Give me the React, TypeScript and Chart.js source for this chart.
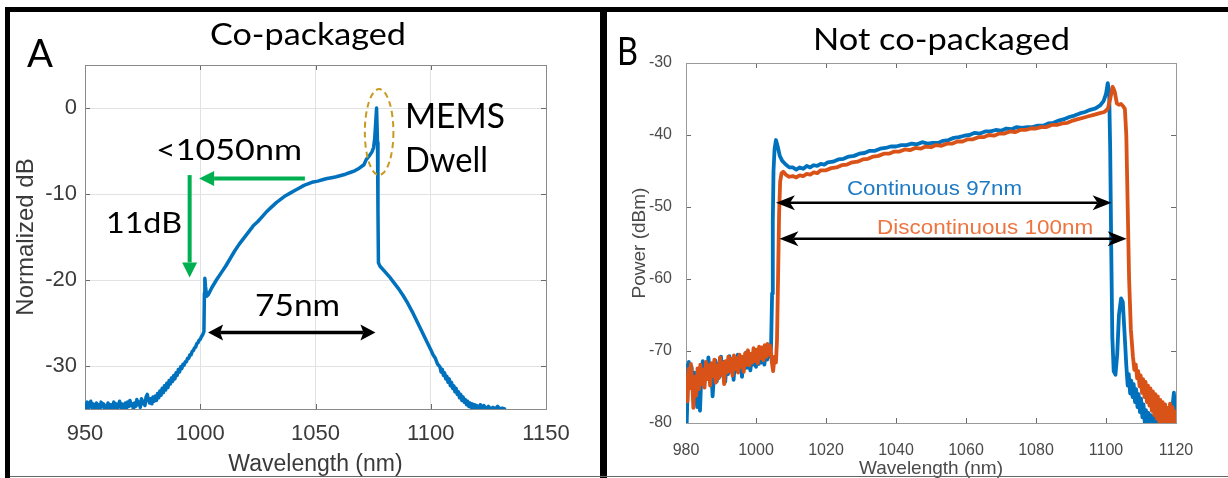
import React, { useEffect, useRef } from 'react';
import { Chart, registerables } from 'chart.js';

Chart.register(...registerables);

// ---------- Panel A: co-packaged spectrum (wavelength nm, normalized dB) ----------
const spectrumA: [number, number][] = [
  [950, -34.4], [950.5, -34.9], [951, -34.2], [951.5, -35.0], [952, -34.5], [952.5, -34.1], [953, -34.8], [953.5, -34.4],
  [954, -35.1], [954.5, -34.6], [955, -34.3], [955.5, -34.9], [956, -34.5], [956.5, -35.0], [957, -34.2], [957.5, -34.7],
  [958, -34.4], [958.5, -35.1], [959, -34.6], [959.5, -34.9], [960, -34.3], [960.5, -34.8], [961, -34.5], [961.5, -35.0],
  [962, -34.6], [962.5, -34.2], [963, -34.9], [963.5, -34.4], [964, -35.0], [964.5, -34.5], [965, -34.1], [965.5, -34.8],
  [966, -34.4], [966.5, -35.1], [967, -34.6], [967.5, -34.3], [968, -34.9], [968.5, -34.2], [969, -34.7], [969.5, -34.0],
  [970, -34.6], [970.5, -34.4], [971, -35.0], [971.5, -34.3], [972, -34.7], [972.5, -33.9], [973, -34.5], [973.5, -34.2],
  [974, -34.8], [974.5, -33.8], [975, -34.4], [975.5, -34.1], [976, -34.6], [976.5, -33.6], [977, -33.3], [977.5, -33.9],
  [978, -34.3], [978.5, -33.8], [979, -34.4], [979.5, -33.6], [980, -34.1], [980.5, -33.5], [981, -34.0], [981.5, -33.2],
  [982, -33.7], [982.5, -32.9], [983, -33.4], [983.5, -32.6], [984, -33.1], [984.5, -32.3], [985, -32.8], [985.5, -32.0],
  [986, -32.5], [986.5, -31.7], [987, -32.1], [987.5, -31.4], [988, -31.8], [988.5, -31.1], [989, -31.5], [989.5, -30.8],
  [990, -31.1], [990.5, -30.4], [991, -30.7], [991.5, -30.1], [992, -30.3], [992.5, -29.8], [993, -29.9], [993.5, -29.5],
  [994, -29.5], [994.5, -29.1], [995, -29.1], [995.5, -28.7], [996, -28.7], [996.5, -28.3], [997, -28.2], [997.5, -27.9],
  [998, -27.8], [998.5, -27.4], [999, -27.3], [999.5, -27.0], [1000, -26.9], [1000.5, -26.6], [1001, -26.4],
  [1001.6, -26.0], [1001.8, -21.5], [1002.0, -19.8], [1002.3, -20.8], [1002.8, -21.9], [1003.5, -21.7], [1005, -20.9],
  [1007, -20.0], [1009, -19.2], [1011, -18.4], [1013, -17.5], [1015, -16.6], [1017, -15.8], [1019, -15.1], [1021, -14.4],
  [1023, -13.7], [1025, -13.2], [1027, -12.6], [1029, -12.0], [1031, -11.5], [1033, -11.0], [1035, -10.6], [1037, -10.2],
  [1039, -9.9], [1041, -9.6], [1043, -9.3], [1045, -9.0], [1047, -8.8], [1049, -8.6], [1051, -8.5], [1053, -8.35],
  [1055, -8.2], [1057, -8.1], [1059, -8.0], [1061, -7.85], [1063, -7.7], [1065, -7.5], [1067, -7.3], [1069, -7.0],
  [1071, -6.6], [1072, -6.0], [1073.5, -5.5], [1074.5, -5.1], [1075.2, -4.6], [1075.7, -3.5], [1076.1, -1.8],
  [1076.5, 0], [1076.9, -4], [1077.1, -12], [1077.3, -18.0], [1078, -18.4], [1080, -19.0], [1082, -19.6], [1084, -20.3],
  [1086, -21.0], [1088, -21.8], [1090, -22.7], [1092, -23.7], [1094, -24.8], [1096, -25.9], [1098, -27.0],
  [1100, -28.1], [1101, -28.7], [1102, -29.1], [1103, -29.8], [1104, -30.1], [1104.5, -30.7], [1105, -30.4],
  [1105.5, -31.1], [1106, -30.8], [1106.5, -31.5], [1107, -31.2], [1107.5, -31.9], [1108, -31.5], [1108.5, -32.3],
  [1109, -31.9], [1109.5, -32.6], [1110, -32.3], [1110.5, -33.0], [1111, -32.6], [1111.5, -33.3], [1112, -33.0],
  [1112.5, -33.7], [1113, -33.3], [1113.5, -34.0], [1114, -33.6], [1114.5, -34.2], [1115, -33.9], [1115.5, -34.5],
  [1116, -34.1], [1116.5, -34.7], [1117, -34.3], [1117.5, -34.8], [1118, -34.4], [1118.5, -34.9], [1119, -34.5],
  [1119.5, -35.0], [1120, -34.6], [1121, -34.9], [1121.5, -34.5], [1122, -35.0], [1123, -34.6], [1124, -35.0],
  [1125, -34.7], [1126, -35.0], [1127, -34.8], [1128, -35.0], [1129, -34.7], [1130, -35.0], [1131, -34.9], [1132, -35.0],
];
const xTicksA = [950, 1000, 1050, 1100, 1150];
const yTicksA = [-30, -20, -10, 0];

// ---------- Panel B: not co-packaged spectra (wavelength nm, power dBm) ----------
const continuousB: [number, number][] = [
  [980, -72.0], [980.2, -80], [980.5, -75], [980.8, -71.5], [981.2, -74.8], [981.6, -72.2], [982, -76], [982.4, -73],
  [982.8, -75.5], [983.2, -77.8], [983.6, -74], [984, -78.3], [984.4, -73.2], [984.8, -71.4], [985.2, -74.6],
  [985.6, -72.1], [986, -73.8], [986.4, -70.9], [986.8, -73.5], [987.2, -72.2], [987.6, -76.3], [988, -73.4],
  [988.4, -71.3], [988.8, -74.2], [989.2, -71.8], [989.6, -73.6], [990, -70.8], [990.4, -73.1], [990.8, -71.5],
  [991.2, -74.3], [991.6, -71.9], [992, -73.2], [992.4, -70.7], [992.8, -72.9], [993.2, -71.2], [993.6, -74.0],
  [994, -71.5], [994.4, -72.8], [994.8, -70.5], [995.2, -72.6], [995.6, -71.0], [996, -73.6], [996.4, -71.3],
  [996.8, -72.4], [997.2, -70.2], [997.6, -72.3], [998, -70.9], [998.4, -72.7], [998.8, -70.4], [999.2, -71.9],
  [999.6, -70.1], [1000, -72.2], [1000.4, -70.6], [1000.8, -71.8], [1001.2, -69.8], [1001.6, -71.6], [1002, -70.3],
  [1002.4, -71.9], [1002.8, -69.9], [1003.2, -71.2], [1003.6, -69.5], [1004, -70.8], [1004.3, -69.5], [1004.6, -62],
  [1004.8, -52], [1005.0, -45], [1005.3, -42], [1005.7, -40.7], [1006.2, -41.6], [1006.8, -42.9], [1007.5, -43.6],
  [1008.5, -44.1], [1009.5, -44.5], [1010.5, -44.5], [1011.5, -44.8], [1012.5, -44.5], [1013.5, -44.7],
  [1014.5, -44.3], [1015.5, -44.5], [1016.5, -44.2], [1017.5, -44.3], [1018.5, -44.0], [1019.5, -44.1],
  [1020.5, -43.8], [1022, -43.7], [1023.5, -43.4], [1025, -43.3], [1026.5, -43.0], [1028, -42.9], [1029.5, -42.6],
  [1031, -42.5], [1032.5, -42.2], [1034, -42.2], [1035.5, -41.9], [1037, -41.8], [1038.5, -41.6], [1040, -41.6],
  [1041.5, -41.4], [1043, -41.4], [1044.5, -41.2], [1046, -41.3], [1047.5, -41.0], [1049, -41.2], [1050.5, -41.1],
  [1052, -41.1], [1053.5, -40.8], [1055, -40.7], [1056.5, -40.4], [1058, -40.3], [1059.5, -40.1], [1061, -40.0],
  [1062.5, -39.7], [1064, -39.8], [1065.5, -39.5], [1067, -39.5], [1068.5, -39.3], [1070, -39.4], [1071.5, -39.1],
  [1073, -39.2], [1074.5, -38.9], [1076, -39.0], [1077.5, -38.9], [1079, -38.9], [1080.5, -38.7], [1082, -38.7],
  [1083.5, -38.4], [1085, -38.3], [1086.5, -38.0], [1088, -37.8], [1089.5, -37.5], [1091, -37.3], [1092.5, -37.0],
  [1094, -36.8], [1095.5, -36.5], [1097, -36.3], [1098.3, -35.9], [1099.3, -35.3], [1100, -34.3], [1100.5, -32.8],
  [1100.9, -34.0], [1101.2, -42], [1101.5, -56], [1101.8, -68], [1102.2, -72.8], [1102.7, -73.3], [1103.2, -70.5],
  [1103.7, -65], [1104.3, -62.7], [1104.8, -63.2], [1105.3, -67.5], [1105.8, -72], [1106.2, -74.8], [1106.5, -73.2],
  [1106.9, -75.9], [1107.2, -74.1], [1107.6, -76.4], [1107.9, -74.6], [1108.3, -77.1], [1108.6, -75.3], [1109, -77.8],
  [1109.3, -76.0], [1109.7, -78.5], [1110, -76.6], [1110.4, -79.2], [1110.7, -77.4], [1111.1, -80], [1111.4, -78.2],
  [1111.8, -80], [1112.1, -78.6], [1112.5, -80], [1112.8, -78.9], [1113.2, -80], [1113.5, -79.1], [1113.9, -80],
  [1114.2, -78.7], [1114.6, -80], [1114.9, -79.2], [1115.3, -80], [1115.6, -78.8], [1116, -80], [1116.3, -79.4],
  [1116.7, -80], [1117, -78.9], [1117.4, -80], [1117.7, -79.3], [1118.1, -80], [1118.4, -78.6], [1118.8, -80],
  [1119.1, -77.2], [1119.4, -75.8], [1119.7, -78.5], [1120, -80],
];
const discontinuousB: [number, number][] = [
  [980, -73.5], [980.2, -76], [980.4, -77], [980.7, -72.5], [981, -75.2], [981.4, -71.8], [981.8, -74.5], [982.1, -77.9],
  [982.5, -73.6], [982.9, -76.2], [983.3, -72.4], [983.7, -75.3], [984.1, -71.9], [984.5, -74.6], [984.9, -72.6],
  [985.3, -75.1], [985.7, -71.5], [986.1, -73.9], [986.5, -72.0], [986.9, -74.8], [987.3, -71.7], [987.7, -73.5],
  [988.1, -71.2], [988.5, -74.4], [988.9, -72.0], [989.3, -73.8], [989.7, -70.9], [990.1, -73.3], [990.5, -71.6],
  [990.9, -74.6], [991.3, -71.4], [991.7, -73.0], [992.1, -70.8], [992.5, -72.8], [992.9, -71.1], [993.3, -73.4],
  [993.7, -70.6], [994.1, -72.5], [994.5, -71.0], [994.9, -73.0], [995.3, -70.5], [995.7, -72.2], [996.1, -70.8],
  [996.5, -72.9], [996.9, -70.3], [997.3, -71.9], [997.7, -69.9], [998.1, -72.0], [998.5, -70.4], [998.9, -71.6],
  [999.3, -69.6], [999.7, -71.4], [1000.1, -69.8], [1000.5, -71.7], [1000.9, -69.4], [1001.3, -71.0], [1001.7, -69.5],
  [1002.1, -71.3], [1002.5, -69.2], [1002.9, -70.8], [1003.3, -69.0], [1003.7, -70.5], [1004.1, -69.3], [1004.5, -71.5],
  [1004.9, -72.8], [1005.3, -70.8], [1005.7, -71.6], [1006, -68.5], [1006.3, -60], [1006.6, -51], [1006.9, -46.5],
  [1007.3, -45.3], [1007.8, -45.1], [1008.5, -45.5], [1009.5, -45.8], [1010.5, -45.7], [1011.5, -45.9],
  [1012.5, -45.6], [1013.5, -45.7], [1014.5, -45.4], [1015.5, -45.5], [1016.5, -45.2], [1017.5, -45.3],
  [1018.5, -44.9], [1020, -44.9], [1021.5, -44.6], [1023, -44.5], [1024.5, -44.2], [1026, -44.1], [1027.5, -43.8],
  [1029, -43.7], [1030.5, -43.4], [1032, -43.3], [1033.5, -43.0], [1035, -42.9], [1036.5, -42.6], [1038, -42.6],
  [1039.5, -42.3], [1041, -42.3], [1042.5, -42.0], [1044, -42.1], [1045.5, -41.8], [1047, -41.9], [1048.5, -41.6],
  [1050, -41.7], [1051.5, -41.4], [1053, -41.5], [1054.5, -41.2], [1056, -41.2], [1057.5, -40.9], [1059, -40.9],
  [1060.5, -40.6], [1062, -40.6], [1063.5, -40.3], [1065, -40.3], [1066.5, -40.0], [1068, -40.1], [1069.5, -39.8],
  [1071, -39.8], [1072.5, -39.5], [1074, -39.6], [1075.5, -39.3], [1077, -39.3], [1078.5, -39.1], [1080, -39.1],
  [1081.5, -38.9], [1083, -38.9], [1084.5, -38.6], [1086, -38.6], [1087.5, -38.4], [1089, -38.3], [1090.5, -38.0],
  [1092, -37.8], [1093.5, -37.6], [1095, -37.4], [1096.5, -37.2], [1098, -37.0], [1099.5, -36.8], [1100.5, -36.4],
  [1101.2, -35], [1101.9, -33.3], [1102.5, -34.0], [1103.1, -35.6], [1103.7, -35.8], [1104.3, -35.7],
  [1104.9, -36.0], [1105.4, -36.4], [1105.8, -40], [1106.2, -50], [1106.6, -60], [1107.1, -67], [1107.7, -70.8],
  [1108.1, -72.6], [1108.5, -71.9], [1108.9, -73.8], [1109.2, -72.8], [1109.6, -74.9], [1109.9, -73.4], [1110.3, -75.8],
  [1110.6, -73.9], [1111, -76.4], [1111.3, -74.3], [1111.7, -77.1], [1112, -74.8], [1112.4, -77.6], [1112.7, -75.2],
  [1113.1, -78.3], [1113.4, -75.6], [1113.8, -78.9], [1114.1, -76.0], [1114.5, -79.4], [1114.8, -76.3], [1115.2, -79.8],
  [1115.5, -76.8], [1115.9, -80], [1116.2, -77.1], [1116.6, -80], [1116.9, -77.4], [1117.3, -80], [1117.6, -77.9],
  [1118, -80], [1118.3, -77.3], [1118.7, -80], [1119, -77.8], [1119.4, -80], [1119.7, -78.4], [1120, -79.5],
];
const xTicksB = [980, 1000, 1020, 1040, 1060, 1080, 1100, 1120];
const yTicksB = [-80, -70, -60, -50, -40, -30];

// ---------- styling ----------
const AXIS_FONT = '"Liberation Sans", Arial, sans-serif';
const NOTE_FONT = 'Lato, "Open Sans", sans-serif';
const BLUE = '#0072BD';
const ORANGE = '#D95319';
const GREEN = '#00B050';

function fitText(ctx: any, text: string, left: number, baseline: number, size: number, color: string, width: number, family = NOTE_FONT) {
  ctx.save();
  ctx.font = `${size}px ${family}`;
  ctx.fillStyle = color;
  ctx.textAlign = 'left';
  ctx.textBaseline = 'alphabetic';
  const w = ctx.measureText(text).width || 1;
  ctx.translate(left, baseline);
  ctx.scale(width / w, 1);
  ctx.fillText(text, 0, 0);
  ctx.restore();
}

function arrowHead(ctx: any, tx: number, ty: number, dx: number, dy: number, len: number, half: number, notch: number) {
  const nx = -dy, ny = dx;
  ctx.beginPath();
  ctx.moveTo(tx, ty);
  ctx.lineTo(tx - dx * len + nx * half, ty - dy * len + ny * half);
  ctx.lineTo(tx - dx * (len - notch), ty - dy * (len - notch));
  ctx.lineTo(tx - dx * len - nx * half, ty - dy * len - ny * half);
  ctx.closePath();
  ctx.fill();
}

function arrow(ctx: any, x1: number, y1: number, x2: number, y2: number, color: string, lw: number, len: number, half: number, notch: number, both: boolean) {
  const L = Math.hypot(x2 - x1, y2 - y1) || 1;
  const dx = (x2 - x1) / L, dy = (y2 - y1) / L;
  ctx.save();
  ctx.strokeStyle = color;
  ctx.fillStyle = color;
  ctx.lineWidth = lw;
  ctx.beginPath();
  const back = len - notch;
  ctx.moveTo(both ? x1 + dx * back : x1, both ? y1 + dy * back : y1);
  ctx.lineTo(x2 - dx * back, y2 - dy * back);
  ctx.stroke();
  arrowHead(ctx, x2, y2, dx, dy, len, half, notch);
  if (both) arrowHead(ctx, x1, y1, -dx, -dy, len, half, notch);
  ctx.restore();
}

function framePlugin(boxColor: string, tickColor: string, tickLen: number) {
  return {
    id: 'frame',
    beforeDatasetsDraw(chart: any) {
      const { ctx, chartArea: a, scales } = chart;
      const x = scales.x, y = scales.y;
      ctx.save();
      ctx.lineWidth = 1;
      ctx.strokeStyle = tickColor;
      ctx.beginPath();
      x.ticks.forEach((t: any) => {
        const p = Math.round(x.getPixelForValue(t.value)) + 0.5;
        ctx.moveTo(p, a.bottom); ctx.lineTo(p, a.bottom - tickLen);
        ctx.moveTo(p, a.top); ctx.lineTo(p, a.top + tickLen);
      });
      y.ticks.forEach((t: any) => {
        const p = Math.round(y.getPixelForValue(t.value)) + 0.5;
        ctx.moveTo(a.left, p); ctx.lineTo(a.left + tickLen, p);
        ctx.moveTo(a.right, p); ctx.lineTo(a.right - tickLen, p);
      });
      ctx.stroke();
      ctx.strokeStyle = boxColor;
      ctx.strokeRect(Math.round(a.left) + 0.5, Math.round(a.top) + 0.5, Math.round(a.right - a.left), Math.round(a.bottom - a.top));
      ctx.restore();
    },
  };
}

const annotA = {
  id: 'annotA',
  afterDraw(chart: any) {
    const { ctx, scales } = chart;
    const X = (v: number) => scales.x.getPixelForValue(v);
    const Y = (v: number) => scales.y.getPixelForValue(v);
    fitText(ctx, 'A', 27, 67, 39, '#000', 26);
    fitText(ctx, 'Co-packaged', 210, 45, 30, '#000', 196);

    // MEMS dwell ellipse
    ctx.save();
    ctx.setLineDash([6, 4]);
    ctx.strokeStyle = '#C79A22';
    ctx.lineWidth = 2;
    ctx.beginPath();
    ctx.ellipse(X(1077.6), Y(-2.8), Math.abs(X(1083.8) - X(1077.6)), Math.abs(Y(-7.8) - Y(-2.8)), 0, 0, Math.PI * 2);
    ctx.stroke();
    ctx.restore();

    // green arrows
    arrow(ctx, X(1045.4), Y(-8.2), X(999.5), Y(-8.2), GREEN, 4, 15, 7.5, 0, false);
    arrow(ctx, X(995.4), Y(-7.8), X(995.4), Y(-19.7), GREEN, 4, 15, 7.5, 0, false);
    // black double arrow
    arrow(ctx, X(1003.4), Y(-26.1), X(1076.0), Y(-26.1), '#000', 3.5, 15, 8, 3, true);

    fitText(ctx, '<1050nm', X(980.8), Y(-6.08), 28, '#000', 146);
    fitText(ctx, '11dB', X(959.1), Y(-14.5), 29, '#000', 76);
    fitText(ctx, '75nm', X(1023.8), Y(-24.19), 30, '#000', 85);
    fitText(ctx, 'MEMS', X(1088.8), Y(-2.27), 35, '#000', 100);
    fitText(ctx, 'Dwell', X(1088.8), Y(-7.4), 35, '#000', 83);
  },
};

const annotB = {
  id: 'annotB',
  afterDraw(chart: any) {
    const { ctx, scales } = chart;
    const X = (v: number) => scales.x.getPixelForValue(v);
    const Y = (v: number) => scales.y.getPixelForValue(v);
    fitText(ctx, 'B', 11, 65, 39, '#000', 21);
    fitText(ctx, 'Not co-packaged', 207, 50, 31, '#000', 257);

    arrow(ctx, X(1005.7), Y(-49.4), X(1101.6), Y(-49.4), '#000', 2.5, 19, 7.5, 5, true);
    arrow(ctx, X(1006.7), Y(-54.4), X(1105.9), Y(-54.4), '#000', 2.5, 19, 7.5, 5, true);

    fitText(ctx, 'Continuous 97nm', X(1026.0), Y(-48.4), 21, '#1F7AC4', 175, AXIS_FONT);
    fitText(ctx, 'Discontinuous 100nm', X(1034.6), Y(-53.7), 21, '#EE7440', 216, AXIS_FONT);
  },
};

function configA(): any {
  return {
    type: 'line',
    data: {
      datasets: [{
        data: spectrumA.map(([x, y]) => ({ x, y })),
        borderColor: BLUE, borderWidth: 3.5, pointRadius: 0, tension: 0,
        borderJoinStyle: 'round', borderCapStyle: 'round', fill: false,
      }],
    },
    options: {
      animation: false, responsive: false, events: [],
      layout: { padding: { top: 65, right: 54, bottom: 0, left: 0 } },
      plugins: { legend: { display: false }, tooltip: { enabled: false } },
      scales: {
        x: {
          type: 'linear', min: 950, max: 1150,
          afterBuildTicks: (s: any) => { s.ticks = xTicksA.map((v) => ({ value: v })); },
          afterFit: (s: any) => { s.height = 69; },
          grid: { color: '#e2e2e2', drawTicks: false },
          border: { display: false },
          ticks: { autoSkip: false, maxRotation: 0, padding: 12, color: '#3a3a3a', font: { family: AXIS_FONT, size: 22 }, callback: (v: any) => String(v) },
          title: { display: true, text: 'Wavelength (nm)', color: '#3a3a3a', font: { family: AXIS_FONT, size: 23 }, padding: { top: 0, bottom: 0 } },
        },
        y: {
          type: 'linear', min: -35, max: 5,
          afterBuildTicks: (s: any) => { s.ticks = yTicksA.map((v) => ({ value: v })); },
          afterFit: (s: any) => { s.width = 85; },
          grid: { color: '#e2e2e2', drawTicks: false },
          border: { display: false },
          ticks: { autoSkip: false, padding: 8, color: '#3a3a3a', font: { family: AXIS_FONT, size: 22 }, callback: (v: any) => String(v) },
          title: { display: true, text: 'Normalized dB', color: '#3a3a3a', font: { family: AXIS_FONT, size: 24 }, padding: { top: 12, bottom: 0 } },
        },
      },
    },
    plugins: [framePlugin('#8a8a8a', '#6a6a6a', 5), annotA],
  };
}

function configB(): any {
  return {
    type: 'line',
    data: {
      datasets: [
        {
          label: 'Discontinuous', data: discontinuousB.map(([x, y]) => ({ x, y })),
          borderColor: ORANGE, borderWidth: 3.8, pointRadius: 0, tension: 0,
          borderJoinStyle: 'round', borderCapStyle: 'round', fill: false,
        },
        {
          label: 'Continuous', data: continuousB.map(([x, y]) => ({ x, y })),
          borderColor: BLUE, borderWidth: 3.8, pointRadius: 0, tension: 0,
          borderJoinStyle: 'round', borderCapStyle: 'round', fill: false,
        },
      ],
    },
    options: {
      animation: false, responsive: false, events: [],
      layout: { padding: { top: 63, right: 52, bottom: 0, left: 0 } },
      plugins: { legend: { display: false }, tooltip: { enabled: false } },
      scales: {
        x: {
          type: 'linear', min: 980, max: 1120,
          afterBuildTicks: (s: any) => { s.ticks = xTicksB.map((v) => ({ value: v })); },
          afterFit: (s: any) => { s.height = 55; },
          grid: { display: false },
          border: { display: false },
          ticks: { autoSkip: false, maxRotation: 0, padding: 10, color: '#4a4a4a', font: { family: AXIS_FONT, size: 16 }, callback: (v: any) => String(v) },
          title: { display: true, text: 'Wavelength (nm)', color: '#4a4a4a', font: { family: AXIS_FONT, size: 19 }, padding: { top: 0, bottom: -2 } },
        },
        y: {
          type: 'linear', min: -80, max: -30,
          afterBuildTicks: (s: any) => { s.ticks = yTicksB.map((v) => ({ value: v })); },
          afterFit: (s: any) => { s.width = 80; },
          grid: { display: false },
          border: { display: false },
          ticks: { autoSkip: false, padding: 6, color: '#4a4a4a', font: { family: AXIS_FONT, size: 16 }, callback: (v: any) => String(v) },
          title: { display: true, text: 'Power (dBm)', color: '#4a4a4a', font: { family: AXIS_FONT, size: 19 }, padding: { top: 22, bottom: 0 } },
        },
      },
    },
    plugins: [framePlugin('#9a9a9a', '#6a6a6a', 5), annotB],
  };
}

function ChartCanvas({ left, width, height, make }: { left: number; width: number; height: number; make: () => any }) {
  const ref = useRef<HTMLCanvasElement>(null);
  useEffect(() => {
    const chart = new Chart(ref.current as HTMLCanvasElement, make());
    return () => chart.destroy();
  }, []);
  return (
    <canvas
      ref={ref}
      width={width}
      height={height}
      style={{ position: 'absolute', left, top: 0, width, height }}
    />
  );
}

export default function App() {
  const bar = (s: React.CSSProperties) => <div style={{ position: 'absolute', background: '#000', ...s }} />;
  return (
    <div style={{ position: 'fixed', left: 0, top: 0, width: 1228, height: 478, background: '#fff', overflow: 'hidden' }}>
      <ChartCanvas left={0} width={600} height={478} make={configA} />
      <ChartCanvas left={606} width={622} height={478} make={configB} />
      {bar({ left: 5, top: 7, width: 1223, height: 5 })}
      {bar({ left: 5, top: 7, width: 5, height: 471 })}
      {bar({ left: 600, top: 7, width: 7, height: 471 })}
      {bar({ left: 10, top: 476, width: 1218, height: 1, background: '#666' })}
    </div>
  );
}
